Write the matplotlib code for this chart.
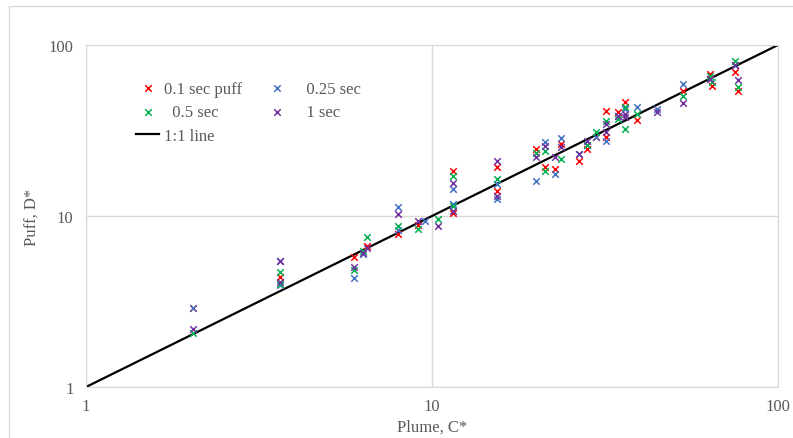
import matplotlib.pyplot as plt
from matplotlib.patches import Rectangle

# values (log-log, Plume C* vs Puff D*)
red_x = [2.04, 3.64, 5.95, 6.49, 7.97, 9.12, 11.5, 11.5, 15.4, 15.4, 20.0, 21.2, 22.7, 23.6,
         26.6, 28.0, 29.8, 31.8, 31.8, 34.5, 36.1, 39.1, 53.1, 63.6, 64.5, 75.1, 76.6]
red_y = [2.90, 4.42, 5.76, 6.68, 7.85, 8.85, 18.3, 10.4, 19.3, 14.0, 24.6, 19.4, 18.8, 26.4,
         21.0, 24.6, 29.0, 41.1, 29.0, 40.5, 46.4, 36.4, 53.8, 67.7, 57.6, 69.5, 53.8]

blue_x = [2.04, 3.64, 3.64, 5.95, 6.32, 7.97, 7.97, 9.55, 11.5, 11.5, 15.4, 15.4, 20.0, 21.2,
          22.7, 23.6, 26.6, 28.0, 29.8, 31.8, 34.5, 36.1, 39.1, 44.7, 53.1, 63.6, 75.1]
blue_y = [2.90, 5.45, 3.95, 4.34, 6.0, 11.3, 8.28, 9.35, 14.4, 11.7, 12.6, 15.4, 16.0, 27.1,
          17.6, 28.6, 23.0, 26.0, 29.0, 27.5, 38.5, 42.2, 43.4, 42.2, 59.2, 63.3, 76.4]

green_x = [2.04, 3.64, 3.64, 5.95, 6.32, 6.49, 7.97, 9.12, 10.4, 11.5, 11.5, 15.4, 20.0, 21.2,
           21.2, 23.6, 28.0, 29.8, 31.8, 34.5, 36.1, 36.1, 39.1, 53.1, 63.6, 64.5, 75.1, 76.6]
green_y = [2.07, 4.72, 4.0, 4.83, 6.24, 7.54, 8.74, 8.40, 9.6, 17.1, 11.4, 16.5, 23.4, 24.0,
           18.3, 21.5, 26.0, 31.0, 35.9, 37.0, 43.4, 32.3, 39.5, 50.3, 65.9, 60.7, 80.6, 56.8]

purple_x = [2.04, 3.64, 3.64, 5.95, 6.32, 6.49, 7.97, 9.12, 10.4, 11.5, 11.5, 15.4, 15.4, 20.0,
            21.2, 22.7, 23.6, 26.6, 28.0, 31.8, 31.8, 34.5, 36.1, 36.1, 44.7, 53.1, 63.6, 75.1, 76.6]
purple_y = [2.18, 5.45, 4.11, 5.03, 6.08, 6.50, 10.3, 9.35, 8.74, 15.6, 10.7, 21.0, 13.1, 22.1,
            25.7, 22.1, 25.3, 23.0, 27.5, 34.5, 31.0, 38.5, 39.5, 37.9, 40.5, 45.8, 63.3, 76.4, 62.4]

line_x = [1, 100]

plt.rcParams['font.family'] = ['Liberation Serif', 'DejaVu Serif']
gray = '#595959'
grid = '#D9D9D9'
fs = 12

fig = plt.figure(figsize=(7.93, 4.39), dpi=100)
fig.patches.append(Rectangle((9 / 793, -0.1), 1.2, 1 - 7 / 439 + 0.1, transform=fig.transFigure,
                             fill=False, edgecolor=grid, linewidth=1))
ax = fig.add_axes([86 / 793, 51 / 439, 692 / 793, 342 / 439])

mk = dict(marker='x', s=22, linewidths=1.1, zorder=3)
h_red = ax.scatter(red_x, red_y, color='#FF0000', label='0.1 sec puff', **mk)
h_blue = ax.scatter(blue_x, blue_y, color='#4472C4', label='   0.25 sec', **mk)
h_green = ax.scatter(green_x, green_y, color='#00B050', label='  0.5 sec', **mk)
h_purple = ax.scatter(purple_x, purple_y, color='#7030A0', label='   1 sec', **mk)
h_line, = ax.plot(line_x, line_x, color='black', linewidth=1.6, label='1:1 line', zorder=2)

ax.set_xscale('log')
ax.set_yscale('log')
ax.set_xlim(1, 100)
ax.set_ylim(1, 100)
ax.set_xticks([1, 10, 100])
ax.set_yticks([1, 10, 100])
ax.set_xticklabels(['1', '10', '100'])
ax.set_yticklabels(['1', '10', '100'])
ax.minorticks_off()
ax.tick_params(length=0, labelsize=fs, colors=gray)
ax.tick_params(axis='x', pad=8)
ax.tick_params(axis='y', pad=9)
ax.grid(True, color=grid, linewidth=1)
ax.set_axisbelow(True)
for s in ax.spines.values():
    s.set_color(grid)

ax.set_xlabel('Plume, C*', fontsize=fs, color=gray, labelpad=3)
ax.set_ylabel('Puff, D*', fontsize=fs, color=gray, labelpad=6)

ax.legend(handles=[h_red, h_green, h_line, h_blue, h_purple], ncol=2, frameon=False,
          loc='upper left', bbox_to_anchor=(0.051, 0.939), fontsize=fs, labelcolor=gray,
          columnspacing=1.4, handlelength=1.38, handletextpad=0.3, labelspacing=0.44)

fig.savefig('out.png', dpi=100)
